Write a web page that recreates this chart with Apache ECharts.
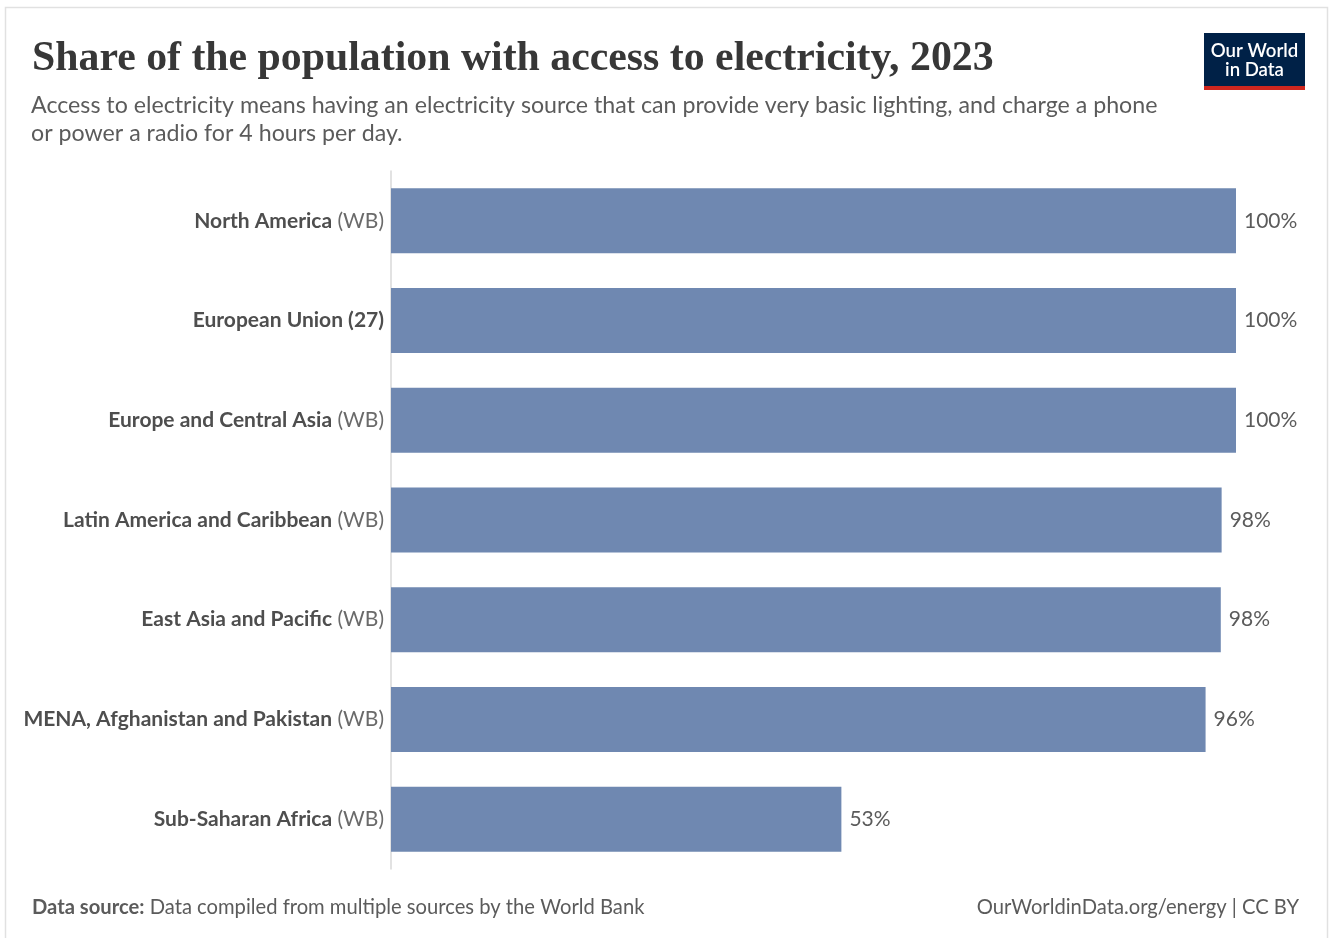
<!DOCTYPE html>
<html>
<head>
<meta charset="utf-8">
<title>Share of the population with access to electricity, 2023</title>
<script src="https://cdn.jsdelivr.net/npm/echarts@6/dist/echarts.min.js"></script>
<style>
  html, body { margin: 0; padding: 0; background: #fff; }
  #chart { width: 1330px; height: 938px; }
</style>
</head>
<body>
<div id="chart"></div>
<script>
// Regions, the part of each label drawn in bold and the suffix drawn in regular weight
const regionNames = [
  'North America',
  'European Union (27)',
  'Europe and Central Asia',
  'Latin America and Caribbean',
  'East Asia and Pacific',
  'MENA, Afghanistan and Pakistan',
  'Sub-Saharan Africa'
];
const regionSuffix = ['(WB)', '', '(WB)', '(WB)', '(WB)', '(WB)', '(WB)'];

// Share of population with access to electricity, 2023 (%)
const accessShare = [100, 100, 100, 98.3, 98.2, 96.4, 53.3];

const titleText = 'Share of the population with access to electricity, 2023';
const subtitleLines = [
  'Access to electricity means having an electricity source that can provide very basic lighting, and charge a phone',
  'or power a radio for 4 hours per day.'
];
const sourceLabel = 'Data source:';
const sourceText = 'Data compiled from multiple sources by the World Bank';
const creditText = 'OurWorldinData.org/energy | CC BY';

const LATO = 'Lato, "Noto Sans", sans-serif';
const categories = regionNames.map((n, i) => n + '|' + regionSuffix[i]);

const chart = echarts.init(document.getElementById('chart'), null, { renderer: 'canvas' });

chart.setOption({
  backgroundColor: '#ffffff',
  animation: false,
  graphic: [
    // outer frame
    { type: 'rect', shape: { x: 5.5, y: 7.5, width: 1322, height: 960 },
      style: { fill: 'none', stroke: '#e1e1e1', lineWidth: 1.5 }, silent: true },
    // title
    { type: 'text', left: 32, top: 38,
      style: { text: titleText, font: 'bold 41.8px "Liberation Serif", "DejaVu Serif", serif', fill: '#373737' } },
    // subtitle
    { type: 'text', left: 31, top: 91.5,
      style: { text: subtitleLines.join('\n'), font: '23.2px ' + LATO, fill: '#5b5b5b', lineHeight: 28 } },
    // logo
    { type: 'group', left: 1204, top: 33, children: [
      { type: 'rect', shape: { x: 0, y: 0, width: 101, height: 53 }, style: { fill: '#002147' } },
      { type: 'rect', shape: { x: 0, y: 53, width: 101, height: 4 }, style: { fill: '#ce261e' } },
      { type: 'text', style: { x: 50.5, y: 8, text: 'Our World\nin Data', align: 'center',
        font: '600 18.6px ' + LATO, fill: '#ffffff', lineHeight: 19 } }
    ] },
    // footer
    { type: 'text', left: 32, top: 897,
      style: { text: '{b|' + sourceLabel + '}{r| ' + sourceText + '}',
        rich: {
          b: { font: 'bold 20.2px ' + LATO, fill: '#5b5b5b' },
          r: { font: '20.2px ' + LATO, fill: '#5b5b5b' }
        } } },
    { type: 'text', right: 31, top: 897,
      style: { text: creditText, font: '20.2px ' + LATO, fill: '#5b5b5b' } }
  ],
  grid: { left: 391, top: 171, right: 94, bottom: 69, containLabel: false },
  xAxis: {
    type: 'value', min: 0, max: 100,
    axisLine: { show: false }, axisTick: { show: false },
    axisLabel: { show: false }, splitLine: { show: false }
  },
  yAxis: {
    type: 'category', inverse: true, data: categories,
    axisLine: { show: true, lineStyle: { color: '#d9d9d9', width: 1.5 } },
    axisTick: { show: false },
    axisLabel: {
      margin: 7,
      formatter: function (v) {
        const parts = v.split('|');
        return parts[1] ? '{b|' + parts[0] + '}{r|\u00a0' + parts[1] + '}' : '{b|' + parts[0] + '}';
      },
      rich: {
        b: { fontFamily: LATO, fontWeight: 'bold', fontSize: 21, color: '#4e4e4e' },
        r: { fontFamily: LATO, fontSize: 21, color: '#6a6a6a' }
      }
    }
  },
  series: [{
    type: 'bar',
    data: accessShare,
    barWidth: 65,
    itemStyle: { color: '#6f88b1' },
    label: {
      show: true, position: 'right', distance: 8,
      fontFamily: LATO, fontSize: 21, color: '#5b5b5b',
      formatter: p => Math.round(p.value) + '%'
    }
  }]
});
</script>
</body>
</html>
